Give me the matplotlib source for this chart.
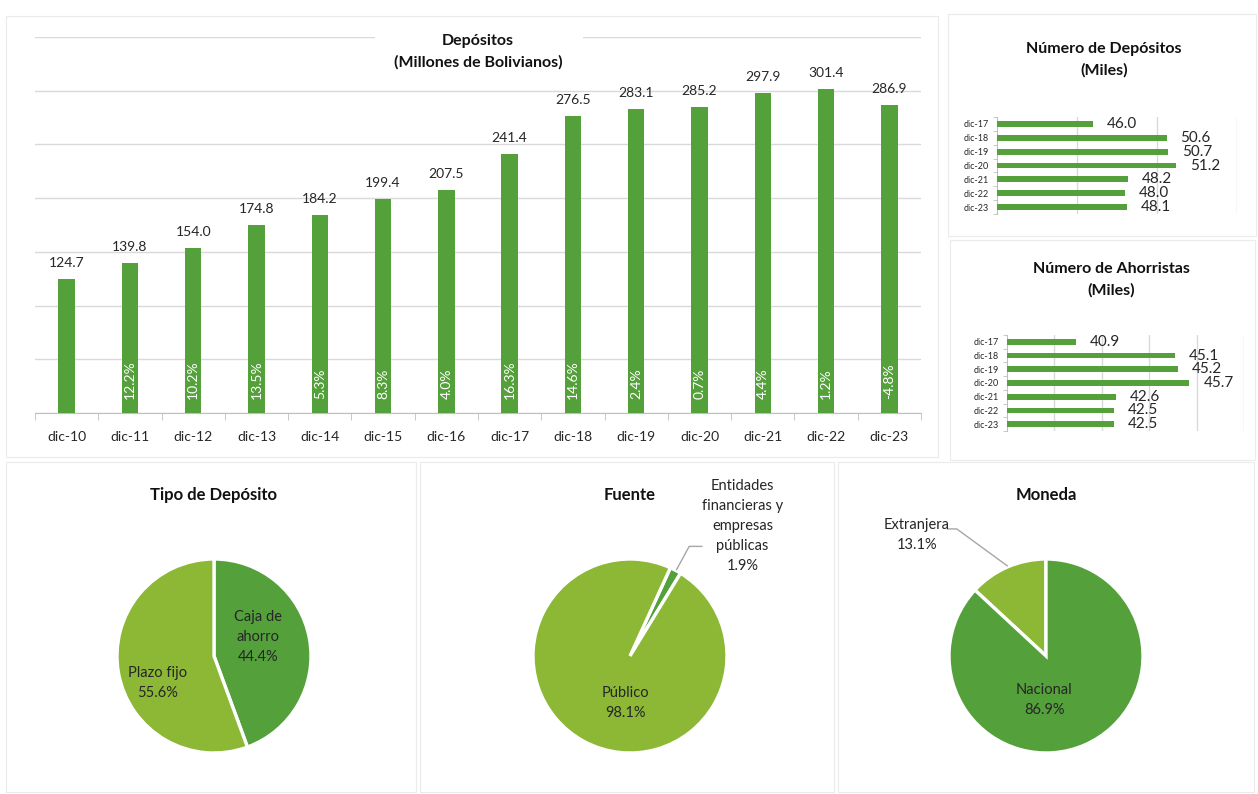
import matplotlib
matplotlib.use("Agg")
import matplotlib.pyplot as plt
from matplotlib.patches import Rectangle
import numpy as np

plt.rcParams['font.family'] = ['Lato', 'DejaVu Sans']

# datos
anios = ['dic-10', 'dic-11', 'dic-12', 'dic-13', 'dic-14', 'dic-15', 'dic-16',
         'dic-17', 'dic-18', 'dic-19', 'dic-20', 'dic-21', 'dic-22', 'dic-23']
depositos = [124.7, 139.8, 154.0, 174.8, 184.2, 199.4, 207.5,
             241.4, 276.5, 283.1, 285.2, 297.9, 301.4, 286.9]
crecimiento = [None, 12.2, 10.2, 13.5, 5.3, 8.3, 4.0,
               16.3, 14.6, 2.4, 0.7, 4.4, 1.2, -4.8]

anios_cortos = ['dic-17', 'dic-18', 'dic-19', 'dic-20', 'dic-21', 'dic-22', 'dic-23']
num_depositos = [46.0, 50.6, 50.7, 51.2, 48.2, 48.0, 48.1]
num_ahorristas = [40.9, 45.1, 45.2, 45.7, 42.6, 42.5, 42.5]

tipo_labels = ['Caja de\nahorro', 'Plazo fijo']
tipo_vals = [44.4, 55.6]
fuente_labels = ['Entidades\nfinancieras y\nempresas\npúblicas', 'Público']
fuente_vals = [1.9, 98.1]
moneda_labels = ['Extranjera', 'Nacional']
moneda_vals = [13.1, 86.9]

VERDE = '#54a03a'
VERDE_CLARO = '#8cb836'
GRIS = '#d9d9d9'
TXT = '#262626'

W, H = 1258, 794
fig = plt.figure(figsize=(W / 100, H / 100), dpi=100)


def px_axes(x0, y0, x1, y1):
    return fig.add_axes([x0 / W, 1 - y1 / H, (x1 - x0) / W, (y1 - y0) / H])


def marco(x0, y0, x1, y1):
    fig.patches.append(Rectangle((x0 / W, 1 - y1 / H), (x1 - x0) / W, (y1 - y0) / H,
                                 transform=fig.transFigure, fc='none', ec='#ebebeb',
                                 lw=0.8, zorder=0))


marco(6, 16, 938, 457)
marco(948, 14, 1256, 236)
marco(950, 240, 1255, 460)
marco(6, 462, 416, 792)
marco(420, 462, 834, 792)
marco(838, 462, 1254, 792)

# ---- grafico principal de barras
ax = px_axes(35, 37, 921, 413)
x = np.arange(len(anios))
ax.bar(x, depositos, width=0.26, color=VERDE, zorder=3)
ax.set_xlim(-0.5, len(anios) - 0.5)
ax.set_ylim(0, 350)
ax.set_yticks(np.arange(0, 351, 50))
ax.yaxis.grid(True, color=GRIS, lw=1, zorder=0)
ax.tick_params(axis='y', left=False, labelleft=False)
for s in ['top', 'right', 'left']:
    ax.spines[s].set_visible(False)
ax.spines['bottom'].set_color('#bfbfbf')
ax.set_xticks(x)
ax.set_xticklabels(anios, fontsize=10, color=TXT)
ax.tick_params(axis='x', length=0, pad=13)
ax.set_xticks(np.arange(-0.5, len(anios)), minor=True)
ax.tick_params(axis='x', which='minor', length=5, color='#bfbfbf')

for xi, v in zip(x, depositos):
    ax.annotate(f'{v:.1f}', (xi, v), xytext=(0, 7), textcoords='offset points',
                ha='center', va='bottom', fontsize=10, color=TXT)
for xi, g in zip(x, crecimiento):
    if g is None:
        continue
    ax.text(xi, 13, f'{g:.1f}%', rotation=90, ha='center', va='bottom',
            color='white', fontsize=10, zorder=4)

fig.patches.append(Rectangle((375 / W, 1 - 80 / H), 208 / W, 52 / H,
                             transform=fig.transFigure, fc='white', ec='none', zorder=1))
fig.text(478 / W, 1 - 52 / H, 'Depósitos\n(Millones de Bolivianos)', ha='center',
         va='center', fontsize=11.5, fontweight='bold', linespacing=1.65, color='#111111')


# ---- barras horizontales
def barras_h(box, vals, xlim, paso, titulo, tpos):
    a = px_axes(*box)
    y = np.arange(len(vals))
    a.barh(y, vals, height=0.42, color=VERDE, zorder=3)
    a.set_xlim(*xlim)
    a.set_ylim(len(vals) - 0.5, -0.5)
    a.set_xticks(np.arange(xlim[0] + paso, xlim[1] + 0.01, paso))
    a.xaxis.grid(True, color=GRIS, lw=1, zorder=0)
    a.tick_params(axis='x', bottom=False, labelbottom=False)
    for s in ['top', 'right', 'bottom']:
        a.spines[s].set_visible(False)
    a.spines['left'].set_color('#bfbfbf')
    a.set_yticks(y)
    a.set_yticklabels(anios_cortos, fontsize=6.5, color=TXT)
    a.tick_params(axis='y', length=0, pad=6)
    a.set_yticks(np.arange(-0.5, len(vals)), minor=True)
    a.tick_params(axis='y', which='minor', length=3, color='#bfbfbf')
    for yi, v in zip(y, vals):
        a.annotate(f'{v:.1f}', (v, yi), xytext=(10, 0), textcoords='offset points',
                   ha='left', va='center', fontsize=11, color=TXT, annotation_clip=False)
    fig.text(tpos[0] / W, 1 - tpos[1] / H, titulo, ha='center', va='center',
             fontsize=11.5, fontweight='bold', linespacing=1.65, color='#111111')


barras_h((997, 117, 1237, 214), num_depositos, (40, 55), 5,
         'Número de Depósitos\n(Miles)', (1104, 60))
barras_h((1007, 335, 1244, 431), num_ahorristas, (38, 48), 2,
         'Número de Ahorristas\n(Miles)', (1111, 280))


# ---- tortas
def torta(cx, cy, r, vals, colores, inicio, horario, titulo):
    half = 200
    a = px_axes(cx - half, cy - half, cx + half, cy + half)
    a.pie(vals, colors=colores, startangle=inicio, counterclock=not horario,
          wedgeprops=dict(edgecolor='white', linewidth=2.4))
    lim = half / r
    a.set_xlim(-lim, lim)
    a.set_ylim(-lim, lim)
    a.axis('off')
    fig.text(cx / W, 1 - 495 / H, titulo, ha='center', va='center',
             fontsize=12, fontweight='bold', color='#111111')
    return a


def etiqueta(a, pos, lab, v):
    a.text(pos[0], pos[1], f'{lab}\n{v:.1f}%', ha='center', va='center',
           fontsize=10.5, color=TXT, linespacing=1.55)


a1 = torta(214, 656, 97, tipo_vals, [VERDE, VERDE_CLARO], 90, True, 'Tipo de Depósito')
etiqueta(a1, (0.45, 0.20), tipo_labels[0], tipo_vals[0])
etiqueta(a1, (-0.58, -0.28), tipo_labels[1], tipo_vals[1])

a2 = torta(630, 656, 97, fuente_vals, [VERDE, VERDE_CLARO], 65.4, True, 'Fuente')
etiqueta(a2, (1.16, 1.34), fuente_labels[0], fuente_vals[0])
etiqueta(a2, (-0.05, -0.48), fuente_labels[1], fuente_vals[1])
a2.plot([0.48, 0.61, 0.74], [0.89, 1.13, 1.13], color='#a6a6a6', lw=1)

a3 = torta(1046, 656, 97, moneda_vals, [VERDE_CLARO, VERDE], 90, False, 'Moneda')
etiqueta(a3, (-1.33, 1.25), moneda_labels[0], moneda_vals[0])
etiqueta(a3, (-0.02, -0.45), moneda_labels[1], moneda_vals[1])
a3.plot([-0.40, -0.92, -1.02], [0.93, 1.31, 1.31], color='#a6a6a6', lw=1)

fig.savefig('out.png', dpi=100)
